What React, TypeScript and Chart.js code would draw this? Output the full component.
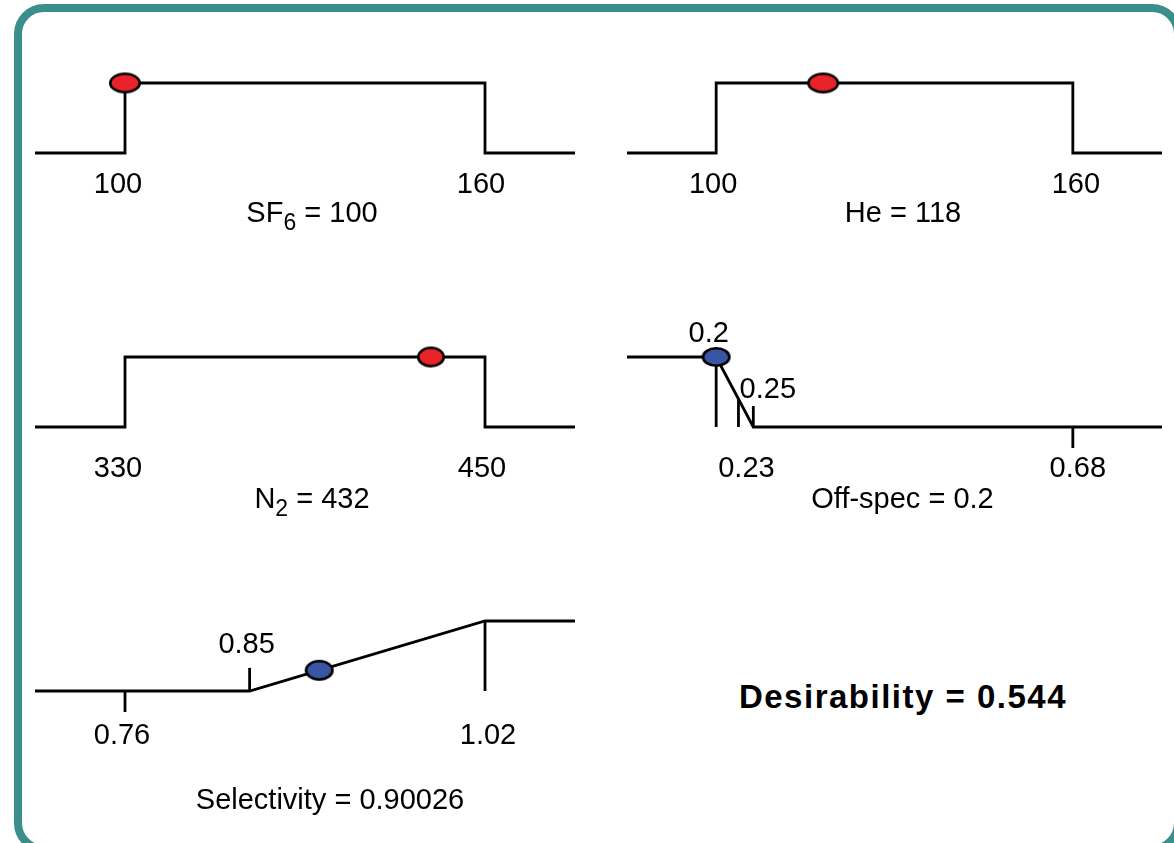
import React, { useEffect, useRef } from 'react';
import { Chart, registerables } from 'chart.js';

Chart.register(...registerables);

const FONT = '"Liberation Sans", Arial, Helvetica, sans-serif';

// ---------------- Data ----------------
// SF6 (in range 100..160)
const sf6CurveX = [85, 100, 100, 160, 160, 175];
const sf6CurveD = [0, 0, 1, 1, 0, 0];
const sf6Value = 100;
const sf6ValueD = 1;
const sf6TickValues = [100, 160];
const sf6TickLabels = ['100', '160'];

// He (in range 100..160)
const heCurveX = [85, 100, 100, 160, 160, 175];
const heCurveD = [0, 0, 1, 1, 0, 0];
const heValue = 118;
const heValueD = 1;
const heTickValues = [100, 160];
const heTickLabels = ['100', '160'];

// N2 (in range 330..450)
const n2CurveX = [300, 330, 330, 450, 450, 480];
const n2CurveD = [0, 0, 1, 1, 0, 0];
const n2Value = 432;
const n2ValueD = 1;
const n2TickValues = [330, 450];
const n2TickLabels = ['330', '450'];

// Off-spec (minimize, 0.2..0.25; data 0.23..0.68)
const offCurveX = [0.08, 0.2, 0.25, 0.8];
const offCurveD = [1, 1, 0, 0];
const offValue = 0.2;
const offValueD = 1;
const offTickValues = [0.2, 0.25, 0.23, 0.68];
const offTickLabels = ['0.2', '0.25', '0.23', '0.68'];
const offMarkX = [0.2, 0.23, 0.25, 0.68];
const offMarkTop = [1, 0.4, 0.3, -0.3];

// Selectivity (maximize, 0.85..1.02; data 0.76..1.02)
const selCurveX = [0.695, 0.85, 1.02, 1.085];
const selCurveD = [0, 0, 1, 1];
const selValue = 0.90026;
const selValueD = 0.296;
const selTickValues = [0.85, 0.76, 1.02];
const selTickLabels = ['0.85', '0.76', '1.02'];
const selMarkX = [0.76, 0.85, 1.02];
const selMarkTop = [-0.3, 0.33, 1];

const desirability = 0.544;

// ---------------- Layout / styles ----------------
const Y_MIN = -2;
const Y_MAX = 1.6;
const PANEL_H = 252;
const RED = '#e8232a';
const BLUE = '#3a55a3';
const LINE_W = 2.8;

type Part = { text: string; sub?: boolean };

const panels = [
  {
    key: 'sf6', left: 35, top: 41, width: 540,
    curveX: sf6CurveX, curveD: sf6CurveD, value: sf6Value, valueD: sf6ValueD,
    tickValues: sf6TickValues, tickLabels: sf6TickLabels, labelDx: [-7, -4], labelDy: [40, 40],
    markX: [] as number[], markTop: [] as number[],
    title: [{ text: 'SF' }, { text: '6', sub: true }, { text: ' = ' + sf6Value }] as Part[],
    titleDx: 7, titleDy: 69, fill: RED, mw: 32, mh: 21,
  },
  {
    key: 'he', left: 627, top: 41, width: 535,
    curveX: heCurveX, curveD: heCurveD, value: heValue, valueD: heValueD,
    tickValues: heTickValues, tickLabels: heTickLabels, labelDx: [-3, 3], labelDy: [40, 40],
    markX: [] as number[], markTop: [] as number[],
    title: [{ text: 'He = ' + heValue }] as Part[],
    titleDx: 8.5, titleDy: 69, fill: RED, mw: 32, mh: 21,
  },
  {
    key: 'n2', left: 35, top: 315, width: 540,
    curveX: n2CurveX, curveD: n2CurveD, value: n2Value, valueD: n2ValueD,
    tickValues: n2TickValues, tickLabels: n2TickLabels, labelDx: [-7, -3], labelDy: [50, 50],
    markX: [] as number[], markTop: [] as number[],
    title: [{ text: 'N' }, { text: '2', sub: true }, { text: ' = ' + n2Value }] as Part[],
    titleDx: 7, titleDy: 81, fill: RED, mw: 28, mh: 21,
  },
  {
    key: 'off', left: 627, top: 315, width: 535,
    curveX: offCurveX, curveD: offCurveD, value: offValue, valueD: offValueD,
    tickValues: offTickValues, tickLabels: offTickLabels, labelDx: [-7.5, 14.5, 8, 5], labelDy: [-85, -29, 50, 50],
    markX: offMarkX, markTop: offMarkTop,
    title: [{ text: 'Off-spec = ' + offValue }] as Part[],
    titleDx: 8, titleDy: 81, fill: BLUE, mw: 29, mh: 20,
  },
  {
    key: 'sel', left: 35, top: 579, width: 540,
    curveX: selCurveX, curveD: selCurveD, value: selValue, valueD: selValueD,
    tickValues: selTickValues, tickLabels: selTickLabels, labelDx: [-3, -3, 3], labelDy: [-38.5, 53, 53],
    markX: selMarkX, markTop: selMarkTop,
    title: [{ text: 'Selectivity = ' + selValue }] as Part[],
    titleDx: 25, titleDy: 118, fill: BLUE, mw: 29, mh: 21,
  },
];

function makeMarker(fill: string, w: number, h: number) {
  const c = document.createElement('canvas');
  c.width = w + 4;
  c.height = h + 4;
  const g = c.getContext('2d')!;
  g.beginPath();
  g.ellipse(c.width / 2, c.height / 2, w / 2 - 1.3, h / 2 - 1.3, 0, 0, Math.PI * 2);
  g.fillStyle = fill;
  g.fill();
  g.lineWidth = 2.6;
  g.strokeStyle = '#000';
  g.stroke();
  return c;
}

function Panel({ cfg }: { cfg: any }) {
  const ref = useRef<HTMLCanvasElement>(null);
  useEffect(() => {
    const canvas = ref.current!;
    const marker = makeMarker(cfg.fill, cfg.mw, cfg.mh);
    const datasets: any[] = [
      {
        data: [{ x: cfg.value, y: cfg.valueD }],
        showLine: false,
        pointStyle: marker,
        pointRadius: 10,
        order: 0,
      },
      {
        data: cfg.curveX.map((x: number, i: number) => ({ x, y: cfg.curveD[i] })),
        borderColor: '#000',
        borderWidth: LINE_W,
        borderJoinStyle: 'miter',
        borderCapStyle: 'butt',
        pointRadius: 0,
        fill: false,
        order: 1,
      },
      ...cfg.markX.map((x: number, i: number) => ({
        data: [{ x, y: 0 }, { x, y: cfg.markTop[i] }],
        borderColor: '#000',
        borderWidth: LINE_W,
        pointRadius: 0,
        fill: false,
        order: 2,
      })),
    ];
    const textPlugin = {
      id: 'panelText',
      afterDraw(chart: any) {
        const ctx = chart.ctx as CanvasRenderingContext2D;
        const xs = chart.scales.x;
        const ys = chart.scales.y;
        const y0 = ys.getPixelForValue(0);
        ctx.save();
        ctx.fillStyle = '#000';
        ctx.textBaseline = 'alphabetic';
        ctx.textAlign = 'center';
        ctx.font = `29px ${FONT}`;
        cfg.tickValues.forEach((v: number, i: number) => {
          ctx.fillText(cfg.tickLabels[i], xs.getPixelForValue(v) + cfg.labelDx[i], y0 + cfg.labelDy[i]);
        });
        ctx.textAlign = 'left';
        const parts: Part[] = cfg.title;
        let total = 0;
        const widths = parts.map((p) => {
          ctx.font = p.sub ? `23px ${FONT}` : `29px ${FONT}`;
          const w = ctx.measureText(p.text).width;
          total += w;
          return w;
        });
        let x = (chart.chartArea.left + chart.chartArea.right) / 2 + cfg.titleDx - total / 2;
        parts.forEach((p, i) => {
          ctx.font = p.sub ? `23px ${FONT}` : `29px ${FONT}`;
          ctx.fillText(p.text, x, y0 + cfg.titleDy + (p.sub ? 8 : 0));
          x += widths[i];
        });
        ctx.restore();
      },
    };
    const chart = new Chart(canvas, {
      type: 'line',
      data: { datasets },
      options: {
        animation: false,
        responsive: false,
        maintainAspectRatio: false,
        events: [],
        layout: { padding: 0, autoPadding: false },
        plugins: {
          legend: { display: false },
          tooltip: { enabled: false },
          title: { display: false },
        },
        scales: {
          x: {
            type: 'linear',
            min: cfg.curveX[0],
            max: cfg.curveX[cfg.curveX.length - 1],
            display: false,
          },
          y: { type: 'linear', min: Y_MIN, max: Y_MAX, display: false },
        },
      } as any,
      plugins: [textPlugin],
    });
    return () => chart.destroy();
  }, []);
  return (
    <canvas
      ref={ref}
      width={cfg.width}
      height={PANEL_H}
      style={{ position: 'absolute', left: cfg.left, top: cfg.top, width: cfg.width, height: PANEL_H }}
    />
  );
}

export default function App() {
  return (
    <div
      style={{
        position: 'fixed',
        left: 0,
        top: 0,
        width: 1174,
        height: 843,
        overflow: 'hidden',
        background: '#fff',
      }}
    >
      <div
        style={{
          position: 'absolute',
          left: 14,
          top: 4,
          width: 1168,
          height: 849,
          boxSizing: 'border-box',
          border: '8px solid #3a8e8c',
          borderRadius: 30,
        }}
      />
      {panels.map((p) => (
        <Panel key={p.key} cfg={p} />
      ))}
      <div
        style={{
          position: 'absolute',
          left: 703,
          top: 680,
          width: 400,
          textAlign: 'center',
          fontFamily: FONT,
          fontWeight: 'bold',
          fontSize: 33,
          lineHeight: '33px',
          letterSpacing: '1.5px',
          color: '#000',
          whiteSpace: 'nowrap',
        }}
      >
        Desirability = {desirability}
      </div>
    </div>
  );
}
